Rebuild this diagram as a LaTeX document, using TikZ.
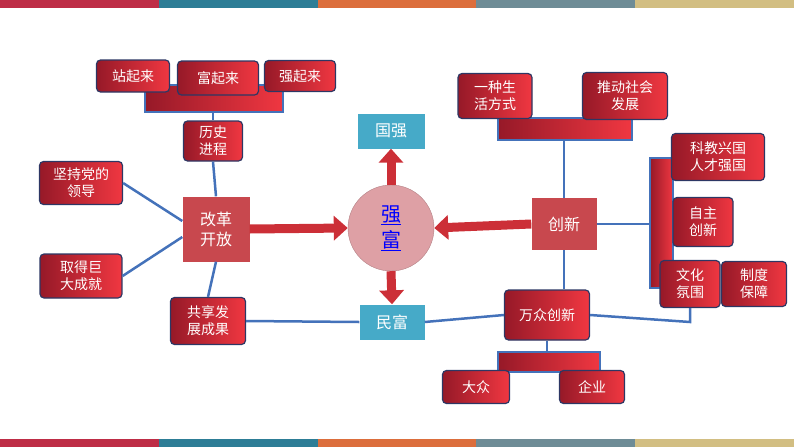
\documentclass[tikz,border=0pt]{standalone}
\usepackage{fontspec}
\newfontfamily\cjk{Noto Sans CJK SC}
\usetikzlibrary{arrows.meta,calc}
\definecolor{lineblue}{RGB}{68,114,186}
\definecolor{boxedge}{RGB}{45,55,100}
\definecolor{darkred}{RGB}{150,25,40}
\definecolor{brightred}{RGB}{240,55,65}
\definecolor{sqred}{RGB}{200,72,78}
\definecolor{tealbox}{RGB}{70,170,200}
\definecolor{pinkc}{RGB}{222,160,165}
\definecolor{st0}{RGB}{190,45,70}
\definecolor{st1}{RGB}{45,125,150}
\definecolor{st2}{RGB}{220,110,60}
\definecolor{st3}{RGB}{110,140,150}
\definecolor{st4}{RGB}{210,190,130}
\tikzset{
  redbox/.style={draw=boxedge,line width=1.2pt,rounded corners=4pt,left color=darkred,right color=brightred,
    text=white,align=center,font=\cjk\fontsize{14}{17}\selectfont,inner sep=2pt},
  sqbox/.style={fill=sqred,text=white,align=center,font=\cjk\fontsize{16}{20}\selectfont},
  tbox/.style={fill=tealbox,text=white,font=\cjk\fontsize{16}{20}\selectfont},
  bar/.style={draw=lineblue,line width=2.5pt,left color=darkred,right color=brightred},
  link/.style={draw=lineblue,line width=2.5pt},
  fat/.style={line width=9pt,draw=brightred!85!black,-{Triangle[length=14pt,width=24pt]}}
}
\begin{document}
\begin{tikzpicture}[x=1pt,y=-1pt]
\useasboundingbox (0,0) rectangle (794,447);
% stripes
\foreach \a in {0,...,4}{
  \fill[st\a] (\a*158.8,0) rectangle ({(\a+1)*158.8},8);
  \fill[st\a] (\a*158.8,439) rectangle ({(\a+1)*158.8},447);
}
% bars
\draw[bar] (145,85) rectangle (283,112);
\draw[bar] (498,118) rectangle (632,140);
\draw[bar] (650,158) rectangle (673,288);
\draw[bar] (498,352) rectangle (600,372);
% centre
\node[circle,fill=pinkc,draw=pinkc!80!black,minimum size=86pt,align=center,text=blue,
  font=\cjk\fontsize{20}{26}\selectfont] (qf) at (391,228) {\underline{强}\\\underline{富}};
\node[tbox,minimum width=67pt,minimum height=35pt] (gq) at (391,131) {国强};
\node[tbox,minimum width=65pt,minimum height=35pt] (mf) at (392,322) {民富};
% left
\node[sqbox,minimum width=67pt,minimum height=65pt] (ggkf) at (216,229) {改革\\开放};
\node[redbox,minimum width=73pt,minimum height=32pt] (zql) at (133,76) {站起来};
\node[redbox,minimum width=81pt,minimum height=34pt] (fql) at (218,78) {富起来};
\node[redbox,minimum width=71pt,minimum height=31pt] (qql) at (300,76) {强起来};
\node[redbox,minimum width=59pt,minimum height=40pt] (lsjc) at (213,141) {历史\\进程};
\node[redbox,minimum width=83pt,minimum height=43pt] (jcdd) at (81,183) {坚持党的\\领导};
\node[redbox,minimum width=82pt,minimum height=44pt] (qdjd) at (81,276) {取得巨\\大成就};
\node[redbox,minimum width=75pt,minimum height=47pt] (gxfz) at (208,321) {共享发\\展成果};
% right
\node[sqbox,minimum width=65pt,minimum height=52pt] (cx) at (564,224) {创新};
\node[redbox,minimum width=74pt,minimum height=45pt] (yzsh) at (495,96) {一种生\\活方式};
\node[redbox,minimum width=85pt,minimum height=47pt] (tdsh) at (625,96) {推动社会\\发展};
\node[redbox,minimum width=93pt,minimum height=47pt] (kjxg) at (718,157) {科教兴国\\人才强国};
\node[redbox,minimum width=60pt,minimum height=49pt] (zzcx) at (703,222) {自主\\创新};
\node[redbox,minimum width=60pt,minimum height=47pt] (whfw) at (690,284) {文化\\氛围};
\node[redbox,minimum width=65pt,minimum height=45pt] (zdbz) at (754,284) {制度\\保障};
\node[redbox,minimum width=85pt,minimum height=50pt] (wzcx) at (547,315) {万众创新};
\node[redbox,minimum width=67pt,minimum height=33pt] (dz) at (476,387) {大众};
\node[redbox,minimum width=65pt,minimum height=33pt] (qy) at (592,387) {企业};
% links
\draw[link] (lsjc.south) -- (ggkf.north);
\draw[link] (lsjc.north) -- ++(0,-9);
\draw[link] (jcdd.east) -- ($(ggkf.west)+(0,-8)$);
\draw[link] (qdjd.east) -- ($(ggkf.west)+(0,8)$);
\draw[link] (ggkf.south) -- (gxfz.north);
\draw[link] (gxfz.east) -- (mf.west);
\draw[link] (mf.east) -- (wzcx.west);
\draw[link] (cx.north) -- (564,140);
\draw[link] (cx.south) -- (wzcx.north-|cx);
\draw[link] (cx.east) -- (650,224);
\draw[link] (wzcx.east) -- (690,322) -- (whfw.south);
\draw[link] (wzcx.south) -- (547,352);
% arrows
\draw[fat] (ggkf.east) -- (qf.west);
\draw[fat] (cx.west) -- (qf.east);
\draw[fat] (qf.north) -- (gq.south);
\draw[fat] (qf.south) -- (mf.north);
\end{tikzpicture}
\end{document}
